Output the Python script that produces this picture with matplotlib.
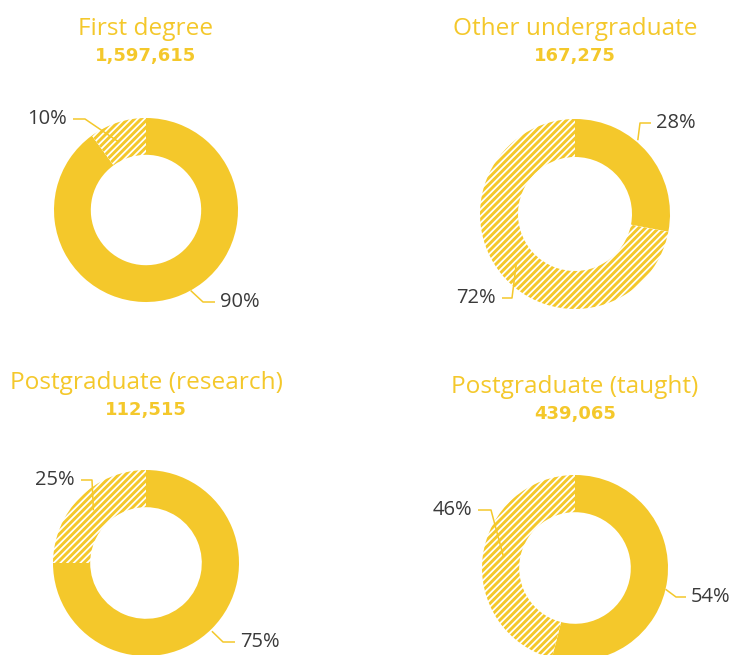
import matplotlib
matplotlib.use("Agg")
import matplotlib.pyplot as plt
import numpy as np

# ---- data ----
titles = ["First degree", "Other undergraduate", "Postgraduate (research)", "Postgraduate (taught)"]
totals = ["1,597,615", "167,275", "112,515", "439,065"]
solid_pct = [90, 28, 75, 54]
hatched_pct = [10, 72, 25, 46]

# ---- style / layout ----
W, H = 734, 655
YELLOW = "#F4C82B"
TEXT_DARK = "#3a3a3a"
plt.rcParams["font.family"] = ["Open Sans", "DejaVu Sans"]
plt.rcParams["hatch.linewidth"] = 2.1

centers = [(146, 210), (575, 214), (146, 563), (575, 568)]   # pixel coords, y from top
radii = [92, 95, 93, 93]
title_pos = [(146, 29), (575, 29), (146, 383), (575, 387)]
ring_frac = 0.4

# label layout per donut: [(solid label), (hatched label)]
# each: (angle offset deg, radius fraction, elbow dx,dy, end dx,dy, side)
label_layout = [
    [(-11, 1.0, (57, 92), (69, 92), "right"), (-4, 0.8, (-61, -91), (-73, -91), "left")],
    [(-10, 1.02, (65, -91), (76, -91), "right"), (0, 0.8, (-63, 84), (-73, 84), "left")],
    [(1, 1.02, (77, 79), (89, 79), "right"), (0, 0.8, (-54, -83), (-65, -83), "left")],
    [(6, 1.0, (101, 29), (111, 29), "right"), (2, 0.78, (-84, -58), (-97, -58), "left")],
]

fig = plt.figure(figsize=(W / 100, H / 100), dpi=100)
ax = fig.add_axes([0, 0, 1, 1])

for i in range(4):
    cx, cy = centers[i]
    cyu = H - cy
    R = radii[i]
    vals = [solid_pct[i], hatched_pct[i]]
    wedges, _ = ax.pie(vals, center=(cx, cyu), radius=R, startangle=90,
                       counterclock=False, colors=[YELLOW, "white"],
                       wedgeprops=dict(width=ring_frac * R, linewidth=0),
                       frame=True)
    wedges[1].set_facecolor("white")
    wedges[1].set_edgecolor(YELLOW)
    wedges[1].set_linewidth(0)
    wedges[1].set_hatch("/////")

    # titles
    tx, ty = title_pos[i]
    ax.text(tx, H - ty, titles[i], ha="center", va="center", fontsize=17.6,
            color=YELLOW)
    ax.text(tx, H - ty - 27, totals[i], ha="center", va="center", fontsize=13,
            color=YELLOW, fontweight="bold", family="DejaVu Sans")

    # labels
    mids = [vals[0] * 3.6 / 2, vals[0] * 3.6 + vals[1] * 3.6 / 2]
    for k in range(2):
        off, rf, elbow, end, side = label_layout[i][k]
        t = np.deg2rad(mids[k] + off)
        r = R * rf
        ax_ = cx + r * np.sin(t)
        ay_ = cyu + r * np.cos(t)
        ex, ey = cx + elbow[0], cyu - elbow[1]
        nx, ny = cx + end[0], cyu - end[1]
        ax.plot([ax_, ex, nx], [ay_, ey, ny], color=YELLOW, lw=1.1,
                solid_capstyle="butt", zorder=5)
        if side == "right":
            ax.text(nx + 5, ny, f"{vals[k]}%", ha="left", va="center",
                    fontsize=14.5, color=TEXT_DARK)
        else:
            ax.text(nx - 6, ny, f"{vals[k]}%", ha="right", va="center",
                    fontsize=14.5, color=TEXT_DARK)

ax.set_xlim(0, W)
ax.set_ylim(0, H)
ax.axis("off")
fig.savefig("out.png", dpi=100, facecolor="white")
